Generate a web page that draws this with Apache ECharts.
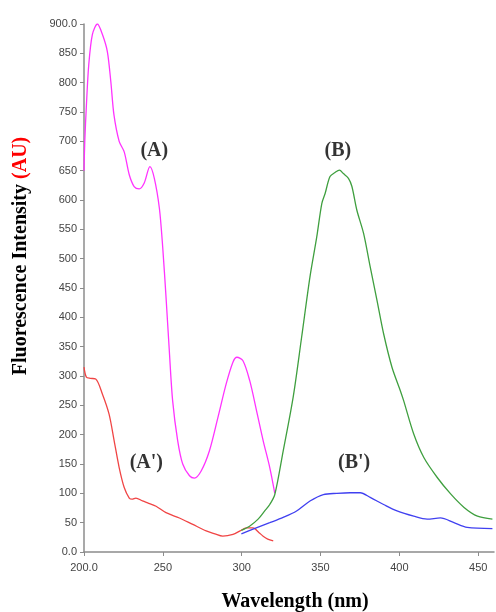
<!DOCTYPE html>
<html>
<head>
<meta charset="utf-8">
<style>
  html, body { margin: 0; padding: 0; background: #fff; }
  #container { width: 496px; height: 612px; }
</style>
<script src="https://cdn.jsdelivr.net/npm/echarts@6/dist/echarts.min.js"></script>
</head>
<body>
<div id="container"></div>
<script>
var dom = document.getElementById('container');
var myChart = echarts.init(dom, null, { renderer: 'canvas' });

// tick values for the axes
let xTicks = [200, 250, 300, 350, 400, 450];
let yTicks = [0, 50, 100, 150, 200, 250, 300, 350, 400, 450, 500, 550, 600, 650, 700, 750, 800, 850, 900];

// spectra: [wavelength nm, intensity AU]
let curveA = [
    [200, 650], [200.5, 700], [201.5, 760], [203, 830], [205.3, 882], [208.5, 900], [211.7, 882],
    [214.8, 853], [217, 802], [219, 745], [222.3, 700], [225.5, 682], [228.7, 643], [231.8, 623],
    [235, 619], [238.2, 629], [241.8, 657], [244.6, 637], [247.8, 586], [249.9, 520], [252, 435],
    [254.1, 343], [256.2, 258], [259.4, 190], [262.6, 150], [266.9, 130], [270, 126], [274.3, 138],
    [279.6, 173], [284.9, 229], [290.2, 287], [294.5, 324], [297, 332], [300.8, 326], [305.1, 292],
    [309.4, 241], [313.6, 190], [317.8, 144], [321, 100]
];
let curveA2 = [
    [200, 315], [201.5, 298], [204, 296], [207.4, 295], [211.7, 269], [215.9, 235], [219.1, 190],
    [222.3, 144], [225.5, 110], [228.7, 92], [230.5, 90], [232.9, 92], [237.1, 87], [241, 83],
    [245.7, 78], [252, 67], [260.5, 58], [269, 47], [277.5, 36], [283, 31], [288, 27], [294.5, 30],
    [299, 36], [303, 41], [307.2, 41], [311, 33], [313.6, 27], [316.5, 22], [320, 19]
];
let curveB = [
    [299.8, 37], [305, 44], [310.4, 56], [314.6, 70], [317.8, 81], [321, 98], [326.3, 172],
    [332.7, 265], [338, 366], [343.3, 469], [347.6, 537], [350.8, 594], [352.9, 611], [356, 640],
    [359.2, 647], [362, 651], [364.5, 645], [367.7, 637], [369.9, 623], [373, 583], [377.3, 543],
    [381.5, 486], [385.8, 429], [390, 372], [395.3, 315], [400.6, 275], [402.7, 258], [409.1, 201],
    [415.5, 161], [424, 127], [432.5, 99], [441, 76], [449.5, 61], [459, 56]
];
let curveB2 = [
    [299.8, 31], [307.2, 39], [317.8, 50], [326.3, 59], [334.8, 70], [343.3, 87], [351.8, 98],
    [360.3, 100], [368.8, 101], [375.2, 101], [381.5, 93], [390, 81], [398.5, 70], [409.1, 61],
    [417.6, 56], [426, 58], [434.6, 50], [443, 42], [459, 40]
];

// curve tags placed in data coordinates
let tagNames = ['(A)', '(B)', "(A')", "(B')"];
let tagPoints = [[244.6, 683], [361, 683], [239.5, 152], [371.3, 152]];

let serif = '"Liberation Serif", "DejaVu Serif", serif';
let sans = '"Liberation Sans", Arial, sans-serif';

function lineSeries(name, data, color) {
    return {
        name: name,
        type: 'line',
        data: data,
        symbol: 'none',
        smooth: 0.3,
        lineStyle: { color: color, width: 1.3 },
        silent: true
    };
}

var option = {
    animation: false,
    backgroundColor: '#ffffff',
    grid: { left: 84, right: 2, top: 24, bottom: 60 },
    xAxis: {
        type: 'value',
        min: 200,
        max: 460,
        interval: 50,
        splitLine: { show: false },
        axisLine: { show: true, onZero: false, lineStyle: { color: '#8c8c8c', width: 1.5 } },
        axisTick: { show: true, length: 4, customValues: xTicks, lineStyle: { color: '#8c8c8c' } },
        axisLabel: {
            customValues: xTicks,
            margin: 10,
            color: '#444',
            fontSize: 11,
            fontFamily: sans,
            formatter: function (v) { return v === 200 ? v.toFixed(1) : String(v); }
        }
    },
    yAxis: {
        type: 'value',
        min: 0,
        max: 900,
        interval: 50,
        splitLine: { show: false },
        axisLine: { show: true, lineStyle: { color: '#8c8c8c', width: 1.5 } },
        axisTick: { show: true, length: 4, customValues: yTicks, lineStyle: { color: '#8c8c8c' } },
        axisLabel: {
            customValues: yTicks,
            margin: 7,
            color: '#444',
            fontSize: 11,
            fontFamily: sans,
            formatter: function (v) { return (v === 0 || v === 900) ? v.toFixed(1) : String(v); }
        }
    },
    series: [
        lineSeries('A', curveA, '#ff33ff'),
        lineSeries("A'", curveA2, '#f04545'),
        lineSeries('B', curveB, '#3f9f3f'),
        lineSeries("B'", curveB2, '#4040f0'),
        {
            name: 'tags',
            type: 'scatter',
            symbolSize: 0,
            silent: true,
            data: tagPoints.map(function (p, i) { return { name: tagNames[i], value: p }; }),
            label: {
                show: true,
                position: 'inside',
                formatter: function (p) { return p.name; },
                color: '#000',
                fontSize: 20,
                fontWeight: 'bold',
                fontFamily: serif
            }
        }
    ],
    graphic: [
        {
            type: 'text',
            x: 21,
            y: 256,
            rotation: Math.PI / 2,
            style: {
                text: '{a|Fluorescence Intensity }{b|(AU)}',
                align: 'center',
                verticalAlign: 'middle',
                rich: {
                    a: { fill: '#000', fontSize: 20, fontWeight: 'bold', fontFamily: serif },
                    b: { fill: '#ff0000', fontSize: 20, fontWeight: 'bold', fontFamily: serif }
                }
            }
        },
        {
            type: 'text',
            x: 295,
            y: 602,
            style: {
                text: 'Wavelength (nm)',
                align: 'center',
                verticalAlign: 'middle',
                fill: '#000',
                fontSize: 20,
                fontWeight: 'bold',
                fontFamily: serif
            }
        }
    ]
};

myChart.setOption(option);
window.addEventListener('resize', myChart.resize);
</script>
</body>
</html>
